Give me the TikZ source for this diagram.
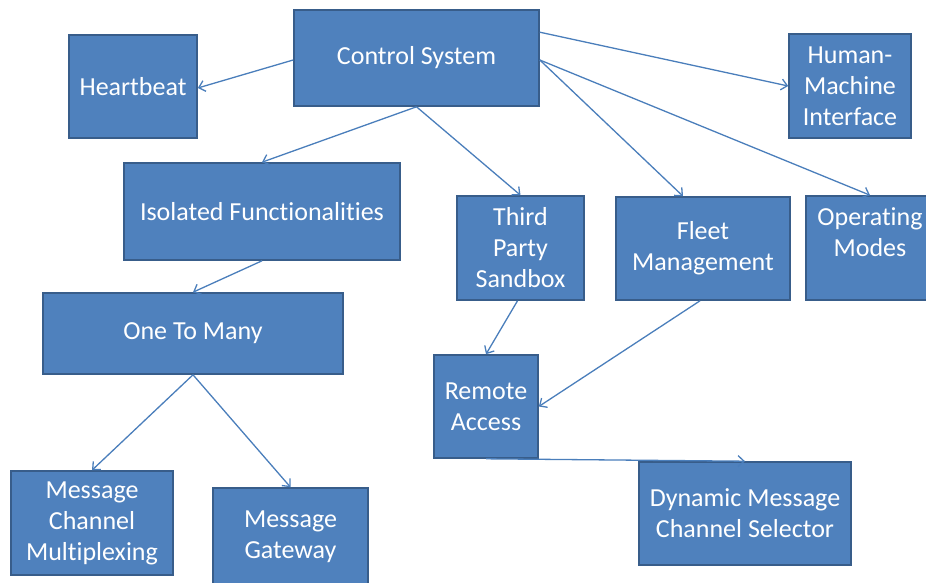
\documentclass[tikz,border=0pt]{standalone}
\usepackage{xcolor}
\usepackage{tikz}
\usetikzlibrary{arrows.meta}
\usepackage{fontspec}
\setmainfont{Carlito}[Ligatures=NoCommon]
\definecolor{BoxBlue}{RGB}{79,129,189}
\definecolor{BoxEdge}{RGB}{56,93,138}
\definecolor{LineBlue}{RGB}{74,126,187}

\begin{document}
\begin{tikzpicture}[x=1pt, y=-1pt,
            box/.style={rectangle, fill=BoxBlue, draw=BoxEdge, line width=1.6pt,
                        inner sep=0pt, align=center, text=white,
                        font=\fontsize{26}{31}\selectfont},
            arr/.style={-{Straight Barb[length=6pt, width=11pt]}, line width=1.3pt, LineBlue}
          ]
          \useasboundingbox (0,0) rectangle (926,583);

          % Top row
          \node[box, minimum width=245pt, minimum height=96pt]  (ctrl) at (416.5, 58)
                {Control System};
          \node[box, minimum width=128pt, minimum height=103pt] (hb)   at (133, 86.5)
                {Heartbeat};
          \node[box, minimum width=122pt, minimum height=104pt] (hmi)  at (850, 86)
                {Human-\\Machine\\Interface};

          % Second row
          \node[box, minimum width=276pt, minimum height=97pt]  (iso)  at (262, 211.5)
                {Isolated Functionalities};
          \node[box, minimum width=127pt, minimum height=104pt] (tps)  at (520.5, 248)
                {Third\\Party\\Sandbox};
          \node[box, minimum width=174pt, minimum height=103pt] (fleet) at (703, 248.5)
                {Fleet\\Management};
          \node[box, minimum width=128pt, minimum height=104pt] (opm)  at (870, 248)
                {Operating\\Modes\\~};

          % Lower part
          \node[box, minimum width=300pt, minimum height=81pt]  (otm)  at (193, 333.5)
                {One To Many};
          \node[box, minimum width=104pt, minimum height=103pt] (rem)  at (486, 406.5)
                {Remote\\Access};
          \node[box, minimum width=162pt, minimum height=104pt] (mcm)  at (92, 523)
                {Message\\Channel\\Multiplexing};
          \node[box, minimum width=155pt, minimum height=98pt]  (gw)   at (290.5, 537)
                {Message\\Gateway};
          \node[box, minimum width=212pt, minimum height=103pt] (dyn)  at (745, 513.5)
                {Dynamic Message\\Channel Selector};

          % Connectors
          \draw[arr] ([yshift=-2pt]ctrl.west) -- ([yshift=-1.5pt]hb.east);
          \draw[arr] ([yshift=-23pt]ctrl.north east) -- (hmi.west);
          \draw[arr] (ctrl.south) -- (iso.north);
          \draw[arr] (ctrl.south) -- (tps.north);
          \draw[arr] ([yshift=-2pt]ctrl.east) -- ([xshift=-20pt]fleet.north);
          \draw[arr] ([yshift=-2pt]ctrl.east) -- (opm.north);
          \draw[arr] (iso.south) -- (otm.north);
          \draw[arr] (otm.south) -- (mcm.north);
          \draw[arr] (otm.south) -- (gw.north);
          \draw[arr] ([xshift=-3pt]tps.south) -- (rem.north);
          \draw[arr] ([xshift=-3pt]fleet.south) -- (rem.east);
          \draw[arr] (rem.south) -- (dyn.north);
        \end{tikzpicture}
\end{document}
